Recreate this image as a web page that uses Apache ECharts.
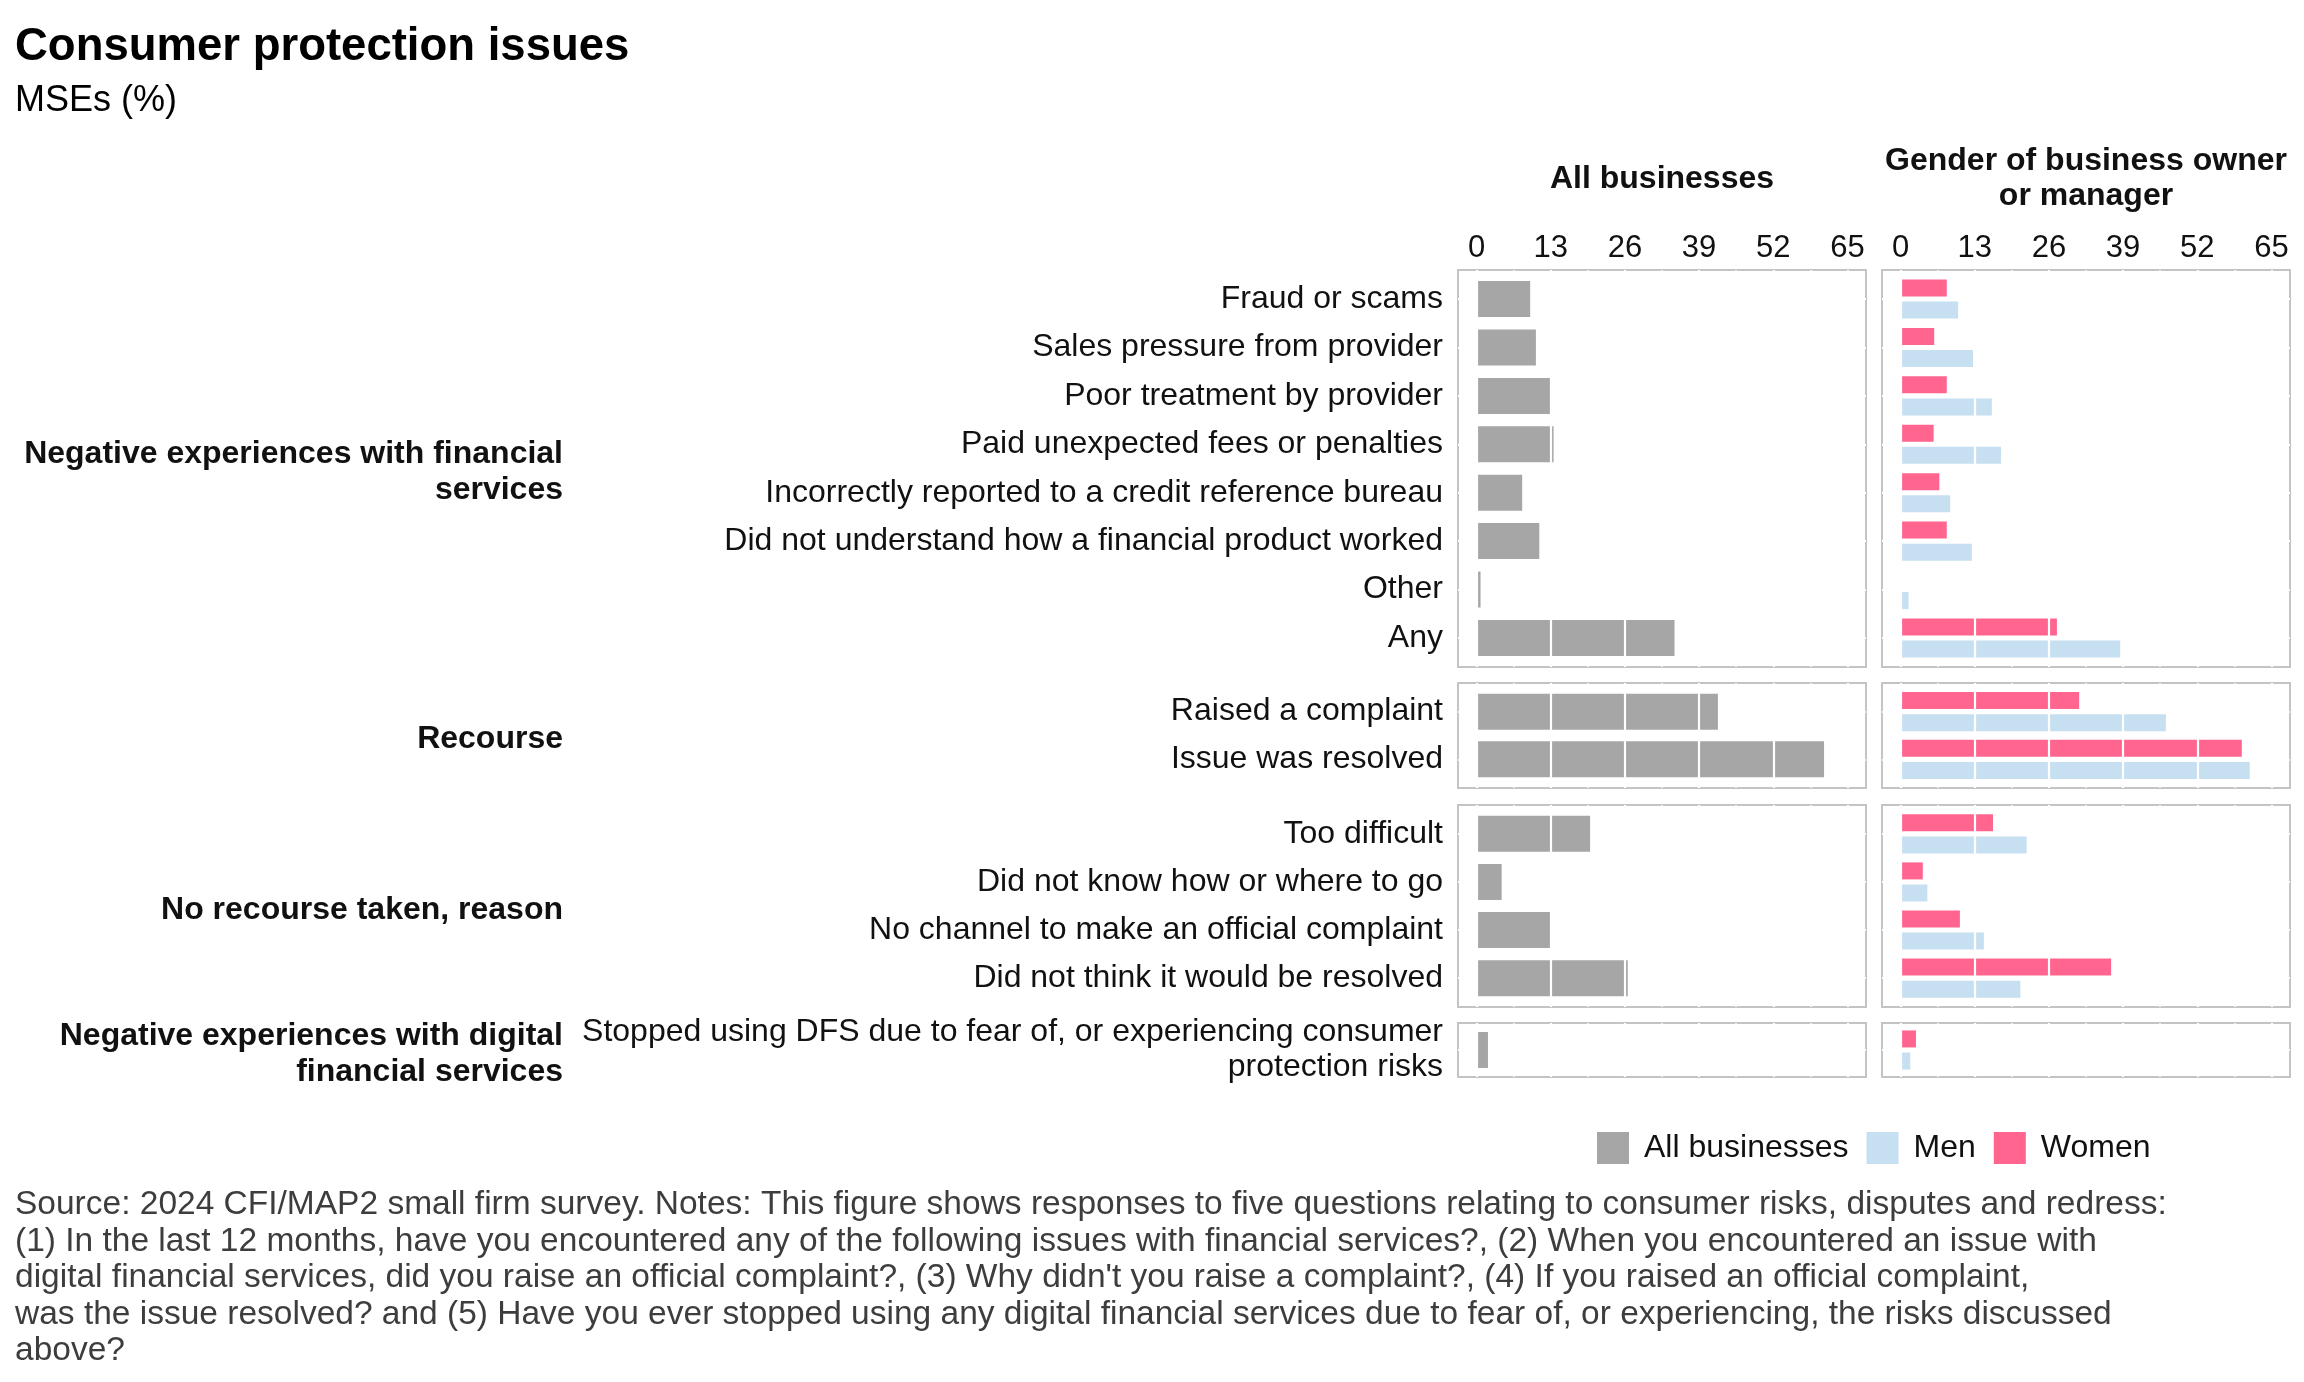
<!DOCTYPE html>
<html><head><meta charset="utf-8">
<script src="https://cdn.jsdelivr.net/npm/echarts@6/dist/echarts.min.js"></script>
<style>html,body{margin:0;padding:0;background:#fff}#c{width:2304px;height:1382px}</style>
</head><body><div id="c"></div>
<script>
const FONT = '"Liberation Sans", Arial, Helvetica, sans-serif';

// ---- data ----
const xTicks = [0, 13, 26, 39, 52, 65];
const xMinor = [6.5, 19.5, 32.5, 45.5, 58.5];

const negCats = ['Fraud or scams', 'Sales pressure from provider', 'Poor treatment by provider',
  'Paid unexpected fees or penalties', 'Incorrectly reported to a credit reference bureau',
  'Did not understand how a financial product worked', 'Other', 'Any'];
const negAll = [9.4, 10.4, 13.0, 13.5, 8.0, 11.0, 0.7, 34.7];
const negWomen = [8.1, 5.9, 8.1, 5.8, 6.8, 8.1, 0, 27.4];
const negMen = [10.1, 12.7, 16.0, 17.6, 8.7, 12.5, 1.4, 38.5];

const recCats = ['Raised a complaint', 'Issue was resolved'];
const recAll = [42.3, 60.9];
const recWomen = [31.3, 59.8];
const recMen = [46.5, 61.2];

const noRecCats = ['Too difficult', 'Did not know how or where to go',
  'No channel to make an official complaint', 'Did not think it would be resolved'];
const noRecAll = [19.9, 4.4, 13.0, 26.5];
const noRecWomen = [16.2, 3.9, 10.4, 36.9];
const noRecMen = [22.1, 4.7, 14.6, 21.0];

const dfsCats = ['Stopped using DFS due to fear of, or experiencing consumer\nprotection risks'];
const dfsAll = [2.0];
const dfsWomen = [2.7];
const dfsMen = [1.7];

const rowLabels = ['Negative experiences with financial\nservices', 'Recourse',
  'No recourse taken, reason', 'Negative experiences with digital\nfinancial services'];
const panelTitles = ['All businesses', 'Gender of business owner\nor manager'];
const legendNames = ['All businesses', 'Men', 'Women'];
const footnote = [
  'Source: 2024 CFI/MAP2 small firm survey. Notes: This figure shows responses to five questions relating to consumer risks, disputes and redress:',
  '(1) In the last 12 months, have you encountered any of the following issues with financial services?, (2) When you encountered an issue with',
  "digital financial services, did you raise an official complaint?, (3) Why didn't you raise a complaint?, (4) If you raised an official complaint,",
  'was the issue resolved? and (5) Have you ever stopped using any digital financial services due to fear of, or experiencing, the risks discussed',
  'above?'
];

const rows = [
  { cats: negCats, all: negAll, women: negWomen, men: negMen },
  { cats: recCats, all: recAll, women: recWomen, men: recMen },
  { cats: noRecCats, all: noRecAll, women: noRecWomen, men: noRecMen },
  { cats: dfsCats, all: dfsAll, women: dfsWomen, men: dfsMen }
];

// ---- layout / style ----
const COL_ALL = '#a6a6a6', COL_MEN = '#c6e0f1', COL_WOMEN = '#ff658f';
const rowTop = [270, 683, 805, 1023];
const rowH = [397, 105, 202, 54];
const colLeft = [1458, 1882];
const colW = 408;
const NF = rows.length * 2; // number of frame grids

const grid = [], xAxis = [], yAxis = [], series = [];
const lineBase = { silent: true, symbol: 'none', animation: false, label: { show: false }, emphasis: { disabled: true } };

// frame grids (panel boxes, x tick labels, gridline gaps in border)
rows.forEach((row, r) => {
  [0, 1].forEach(c => {
    const gi = r * 2 + c;
    grid.push({ left: colLeft[c], top: rowTop[r], width: colW, height: rowH[r], show: true,
      borderColor: '#c4c4c4', borderWidth: 2, backgroundColor: 'transparent' });
    xAxis.push({ type: 'value', gridIndex: gi, min: -3.25, max: 68.25, position: 'top', show: r === 0,
      axisLine: { show: false }, splitLine: { show: false },
      axisTick: { show: true, customValues: xTicks, length: 8, lineStyle: { color: '#333', width: 2 } },
      axisLabel: { customValues: xTicks, fontSize: 31, color: '#111', fontFamily: FONT, margin: 6 } });
    yAxis.push({ type: 'value', gridIndex: gi, min: 0, max: 1, show: false });
    series.push({ type: 'scatter', xAxisIndex: gi, yAxisIndex: gi, data: [], z: 1, silent: true,
      markLine: Object.assign({ z: 1, lineStyle: { color: '#fff', width: 1.5, type: 'solid' },
        data: xMinor.map(v => ({ xAxis: v })).concat(xTicks.map(v => ({ xAxis: v, lineStyle: { color: '#fff', width: 2.2, type: 'solid' } }))) }, lineBase) });
  });
});

// inner plotting grids (categories padded 0.6 band from box edges)
rows.forEach((row, r) => {
  const n = row.cats.length;
  const s = rowH[r] / (n + 0.2);
  [0, 1].forEach(c => {
    const gi = NF + r * 2 + c;
    grid.push({ left: colLeft[c], top: rowTop[r] + 0.1 * s, width: colW, height: n * s, show: false });
    xAxis.push({ type: 'value', gridIndex: gi, min: -3.25, max: 68.25, show: false });
    yAxis.push({ type: 'category', gridIndex: gi, data: row.cats, inverse: true,
      axisLine: { show: false }, splitLine: { show: false },
      axisTick: { show: c === 0, alignWithLabel: true, length: 7, lineStyle: { color: '#333', width: 2 } },
      axisLabel: { show: c === 0, fontSize: 32, color: '#111', fontFamily: FONT, margin: 15, lineHeight: 35, padding: [5, 0, 0, 0] } });
    // horizontal gridlines at categories, beneath bars
    series.push({ type: 'scatter', xAxisIndex: gi, yAxisIndex: gi, data: [], z: 1, silent: true,
      markLine: Object.assign({ z: 1, lineStyle: { color: '#fff', width: 2.2, type: 'solid' },
        data: row.cats.map(cat => ({ yAxis: cat })) }, lineBase) });
    // major verticals drawn over bars
    series.push({ type: 'scatter', xAxisIndex: gi, yAxisIndex: gi, data: [], z: 5, silent: true,
      markLine: Object.assign({ z: 5, lineStyle: { color: '#fff', width: 2.2, type: 'solid' },
        data: xTicks.map(v => ({ xAxis: v })) }, lineBase) });
    if (c === 0) {
      series.push({ type: 'bar', name: 'All businesses', xAxisIndex: gi, yAxisIndex: gi, data: row.all,
        barWidth: 36, z: 2, itemStyle: { color: COL_ALL } });
    } else {
      series.push({ type: 'bar', name: 'Women', xAxisIndex: gi, yAxisIndex: gi, data: row.women,
        barWidth: 17, barGap: '30%', z: 2, itemStyle: { color: COL_WOMEN } });
      series.push({ type: 'bar', name: 'Men', xAxisIndex: gi, yAxisIndex: gi, data: row.men,
        barWidth: 17, barGap: '30%', z: 2, itemStyle: { color: COL_MEN } });
    }
  });
});

const graphic = [
  { type: 'text', x: 15, y: 47, style: { text: 'Consumer protection issues', font: 'bold 45.5px ' + FONT, fill: '#000', verticalAlign: 'middle' } },
  { type: 'text', x: 15, y: 101, style: { text: 'MSEs (%)', font: '36px ' + FONT, fill: '#000', verticalAlign: 'middle' } },
  { type: 'text', x: colLeft[0] + colW / 2, y: 179, style: { text: panelTitles[0], font: 'bold 32px ' + FONT, fill: '#111', align: 'center', verticalAlign: 'middle' } },
  { type: 'text', x: colLeft[1] + colW / 2, y: 179, style: { text: panelTitles[1], font: 'bold 32px ' + FONT, fill: '#111', align: 'center', verticalAlign: 'middle', lineHeight: 35 } },
  { type: 'text', x: 15, y: 1187, style: { text: footnote.join('\n'), font: '33.5px ' + FONT, fill: '#3d3d3d', verticalAlign: 'top', lineHeight: 36.5 } }
];
rowLabels.forEach((t, r) => {
  graphic.push({ type: 'text', x: 563, y: rowTop[r] + rowH[r] / 2 + 4,
    style: { text: t, font: 'bold 32px ' + FONT, fill: '#111', align: 'right', verticalAlign: 'middle', lineHeight: 36 } });
});

const chart = echarts.init(document.getElementById('c'));
chart.setOption({
  animation: false,
  backgroundColor: '#fff',
  textStyle: { fontFamily: FONT },
  grid, xAxis, yAxis, series, graphic,
  legend: { data: legendNames, left: 1592, top: 1127, itemWidth: 32, itemHeight: 32, itemGap: 18, icon: 'rect',
    textStyle: { fontSize: 32, color: '#111', fontFamily: FONT, padding: [0, 0, 0, 10] }, selectedMode: false }
});
</script></body></html>
